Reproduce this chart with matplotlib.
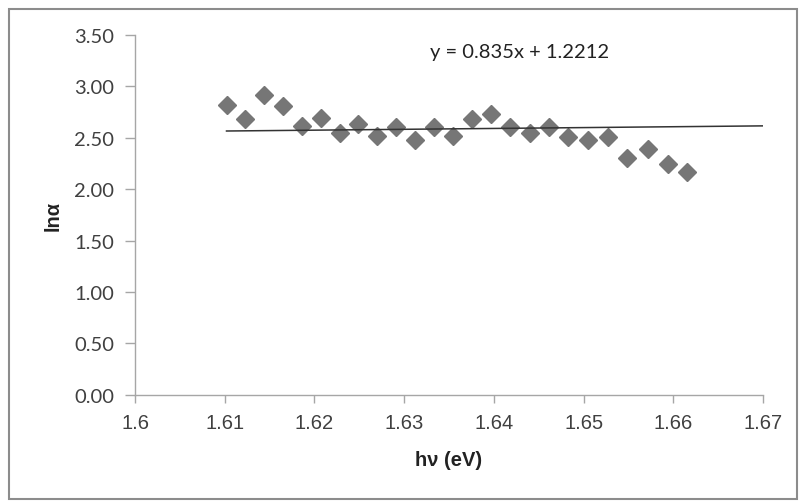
import matplotlib
matplotlib.use("Agg")
import matplotlib.pyplot as plt
from matplotlib.patches import Rectangle

# Data
hv = [1.6102, 1.6123, 1.6144, 1.6165, 1.6186, 1.6207, 1.6228, 1.6249,
      1.6270, 1.6291, 1.6312, 1.6333, 1.6354, 1.6376, 1.6397, 1.6418,
      1.6440, 1.6461, 1.6483, 1.6505, 1.6527, 1.6548, 1.6572, 1.6594, 1.6615]
ln_alpha = [2.82, 2.68, 2.92, 2.81, 2.61, 2.69, 2.55, 2.63, 2.52, 2.60,
            2.48, 2.60, 2.52, 2.68, 2.73, 2.60, 2.55, 2.60, 2.51, 2.48,
            2.51, 2.30, 2.39, 2.24, 2.17]
slope = 0.835
intercept = 1.2212
trend_x = [hv[0], 1.67]

x_ticks = [1.6, 1.61, 1.62, 1.63, 1.64, 1.65, 1.66, 1.67]
x_tick_labels = ["1.6", "1.61", "1.62", "1.63", "1.64", "1.65", "1.66", "1.67"]
y_ticks = [0.0, 0.5, 1.0, 1.5, 2.0, 2.5, 3.0, 3.5]
y_tick_labels = ["0.00", "0.50", "1.00", "1.50", "2.00", "2.50", "3.00", "3.50"]

fig = plt.figure(figsize=(8.0, 5.02), dpi=100)
ax = fig.add_axes([0.16875, 0.2118, 0.785, 0.7165])

ax.plot(hv, ln_alpha, linestyle="none", marker="D", markersize=9.5,
        color="#767676", markeredgecolor="#767676")
ax.plot(trend_x, [slope * v + intercept for v in trend_x],
        color="#333333", linewidth=1.1)

ax.set_xlim(1.6, 1.67)
ax.set_ylim(0, 3.5)
ax.set_xticks(x_ticks)
ax.set_xticklabels(x_tick_labels, fontfamily="Liberation Sans", fontsize=14.5,
                   color="#404040")
ax.set_yticks(y_ticks)
ax.set_yticklabels(y_tick_labels, fontfamily="Lato", fontsize=14.5,
                   color="#404040")

for s in ["top", "right"]:
    ax.spines[s].set_visible(False)
for s in ["left", "bottom"]:
    ax.spines[s].set_color("#a6a6a6")
    ax.spines[s].set_linewidth(1.0)
ax.tick_params(axis="x", direction="out", length=6, width=1.0,
               color="#a6a6a6", pad=7)
ax.tick_params(axis="y", direction="out", length=7, width=1.0,
               color="#a6a6a6", pad=8)

ax.set_xlabel("h\u03bd (eV)", fontfamily="Liberation Sans", fontweight="bold",
              fontsize=14.5, color="#222222", labelpad=13)
ax.set_ylabel("ln\u03b1", fontfamily="Liberation Sans", fontweight="bold",
              fontsize=14.5, color="#222222", labelpad=8)

ax.text(1.6329, 3.34, "y = 0.835x + 1.2212", fontfamily="Lato", fontsize=14.5,
        color="#222222", ha="left", va="center")

fig.patches.append(Rectangle((9 / 800, 2 / 502), 788 / 800, 490 / 502,
                             transform=fig.transFigure, fill=False,
                             edgecolor="#8c8c8c", linewidth=1.5))

fig.savefig("out.png", dpi=100)
